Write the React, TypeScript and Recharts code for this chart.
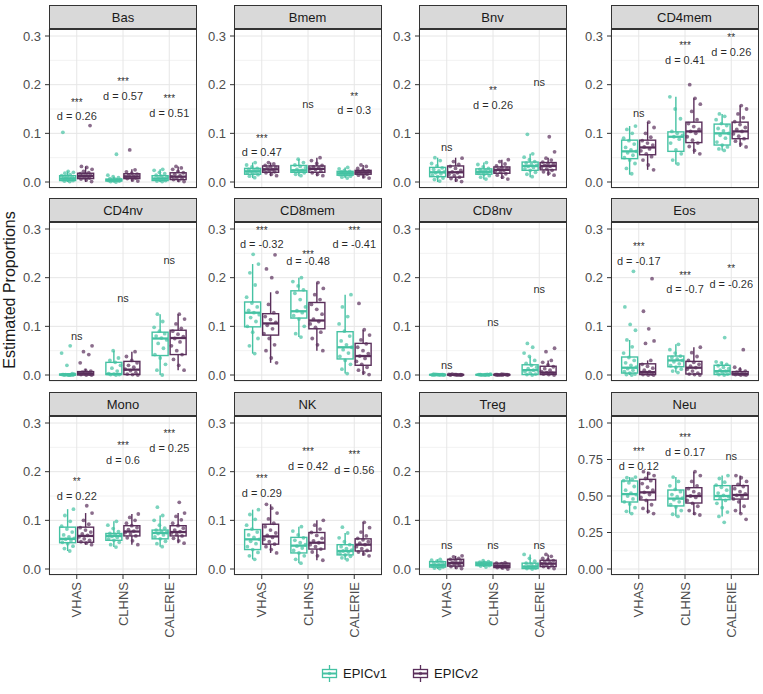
import React from 'react';
import { ComposedChart, Bar, Scatter, XAxis, YAxis, CartesianGrid } from 'recharts';

const cohorts = ['VHAS', 'CLHNS', 'CALERIE'];
const cellTypes = ['Bas', 'Bmem', 'Bnv', 'CD4mem', 'CD4nv', 'CD8mem', 'CD8nv', 'Eos', 'Mono', 'NK', 'Treg', 'Neu'];

// box stats per cohort: [lower whisker, Q1, median, Q3, upper whisker]
const boxV1 = [
  [[0, 0.003, 0.007, 0.013, 0.022], [0, 0.002, 0.004, 0.006, 0.011], [0, 0.003, 0.007, 0.013, 0.026]],
  [[0.008, 0.016, 0.022, 0.028, 0.04], [0.012, 0.02, 0.024, 0.034, 0.047], [0.008, 0.014, 0.018, 0.022, 0.03]],
  [[0, 0.011, 0.02, 0.03, 0.05], [0.005, 0.016, 0.021, 0.027, 0.04], [0.01, 0.024, 0.033, 0.041, 0.058]],
  [[0.015, 0.048, 0.063, 0.086, 0.115], [0.036, 0.063, 0.093, 0.103, 0.175], [0.065, 0.076, 0.1, 0.119, 0.14]],
  [[0, 0, 0.0005, 0.002, 0.003], [0, 0.001, 0.002, 0.026, 0.05], [0, 0.04, 0.075, 0.088, 0.125]],
  [[0.044, 0.099, 0.128, 0.15, 0.228], [0.078, 0.117, 0.131, 0.173, 0.2], [0.003, 0.033, 0.057, 0.089, 0.165]],
  [[0, 0, 0.0005, 0.001, 0.002], [0, 0, 0.0005, 0.001, 0.002], [0, 0.001, 0.01, 0.021, 0.038]],
  [[0, 0.004, 0.015, 0.037, 0.072], [0.005, 0.017, 0.03, 0.039, 0.063], [0, 0.001, 0.008, 0.02, 0.027]],
  [[0.037, 0.054, 0.062, 0.086, 0.123], [0.045, 0.059, 0.068, 0.073, 0.098], [0.046, 0.062, 0.074, 0.08, 0.11]],
  [[0.02, 0.04, 0.061, 0.081, 0.122], [0.012, 0.033, 0.048, 0.065, 0.087], [0.019, 0.029, 0.037, 0.05, 0.074]],
  [[0, 0.004, 0.008, 0.015, 0.02], [0.004, 0.007, 0.01, 0.014, 0.017], [0, 0.001, 0.005, 0.012, 0.03]],
  [[0.38, 0.459, 0.513, 0.603, 0.63], [0.36, 0.432, 0.482, 0.541, 0.63], [0.36, 0.475, 0.5, 0.571, 0.64]],
];

const boxV2 = [
  [[0, 0.007, 0.012, 0.018, 0.032], [0.001, 0.007, 0.011, 0.017, 0.026], [0, 0.005, 0.011, 0.019, 0.032]],
  [[0.012, 0.02, 0.026, 0.033, 0.04], [0.012, 0.02, 0.027, 0.033, 0.05], [0.007, 0.016, 0.02, 0.024, 0.035]],
  [[0, 0.01, 0.02, 0.033, 0.05], [0.006, 0.018, 0.025, 0.031, 0.046], [0.013, 0.025, 0.033, 0.04, 0.05]],
  [[0.025, 0.056, 0.071, 0.086, 0.123], [0.058, 0.081, 0.104, 0.123, 0.172], [0.072, 0.089, 0.104, 0.123, 0.157]],
  [[0, 0, 0.003, 0.007, 0.012], [0, 0.001, 0.011, 0.028, 0.048], [0.01, 0.042, 0.076, 0.092, 0.125]],
  [[0.025, 0.082, 0.106, 0.126, 0.17], [0.05, 0.095, 0.112, 0.149, 0.19], [0, 0.02, 0.039, 0.065, 0.093]],
  [[0, 0, 0.0005, 0.001, 0.002], [0, 0, 0.0005, 0.001, 0.002], [0, 0.001, 0.005, 0.018, 0.03]],
  [[0, 0.001, 0.006, 0.023, 0.03], [0, 0.002, 0.015, 0.028, 0.057], [0, 0.0005, 0.002, 0.007, 0.016]],
  [[0.05, 0.055, 0.068, 0.086, 0.115], [0.05, 0.068, 0.077, 0.089, 0.113], [0.053, 0.068, 0.076, 0.089, 0.115]],
  [[0.033, 0.051, 0.067, 0.092, 0.133], [0.018, 0.041, 0.054, 0.075, 0.1], [0.027, 0.037, 0.05, 0.062, 0.096]],
  [[0, 0.006, 0.012, 0.02, 0.027], [0, 0.003, 0.006, 0.012, 0.013], [0, 0.005, 0.011, 0.018, 0.03]],
  [[0.38, 0.473, 0.525, 0.614, 0.667], [0.37, 0.452, 0.5, 0.557, 0.667], [0.38, 0.479, 0.507, 0.571, 0.64]],
];

// individual samples (jittered points)
const ptsV1 = [
  [[0.001, 0.002, 0.003, 0.004, 0.005, 0.006, 0.007, 0.007, 0.008, 0.009, 0.01, 0.012, 0.013, 0.015, 0.018, 0.02, 0.022, 0.102],
   [0, 0.001, 0.002, 0.002, 0.003, 0.004, 0.004, 0.005, 0.006, 0.007, 0.009, 0.011, 0.014, 0.057],
   [0.001, 0.002, 0.003, 0.004, 0.006, 0.007, 0.008, 0.01, 0.012, 0.014, 0.017, 0.02, 0.024, 0.026]],
  [[0.009, 0.012, 0.015, 0.017, 0.019, 0.021, 0.022, 0.023, 0.025, 0.026, 0.028, 0.031, 0.035, 0.04],
   [0.013, 0.016, 0.019, 0.021, 0.023, 0.024, 0.026, 0.029, 0.032, 0.035, 0.04, 0.047],
   [0.008, 0.01, 0.012, 0.014, 0.015, 0.016, 0.017, 0.018, 0.019, 0.021, 0.022, 0.024, 0.027, 0.03]],
  [[0.002, 0.005, 0.008, 0.011, 0.014, 0.017, 0.019, 0.021, 0.023, 0.026, 0.029, 0.033, 0.038, 0.044, 0.05],
   [0.006, 0.01, 0.013, 0.016, 0.018, 0.02, 0.021, 0.022, 0.024, 0.026, 0.028, 0.031, 0.036, 0.04],
   [0.011, 0.016, 0.02, 0.024, 0.027, 0.03, 0.032, 0.034, 0.036, 0.039, 0.042, 0.046, 0.051, 0.058, 0.098]],
  [[0.017, 0.028, 0.038, 0.045, 0.05, 0.055, 0.06, 0.063, 0.066, 0.071, 0.078, 0.085, 0.09, 0.1, 0.108, 0.115],
   [0.037, 0.045, 0.058, 0.066, 0.08, 0.088, 0.093, 0.096, 0.1, 0.104, 0.13, 0.15, 0.175],
   [0.065, 0.068, 0.072, 0.076, 0.082, 0.09, 0.096, 0.1, 0.105, 0.11, 0.116, 0.12, 0.128, 0.135, 0.14]],
  [[0, 0, 0, 0, 0.001, 0, 0.001, 0.002, 0, 0.001, 0.003, 0.02, 0.045, 0.06],
   [0, 0.001, 0.001, 0.002, 0.003, 0.008, 0.014, 0.02, 0.026, 0.03, 0.035, 0.05],
   [0, 0.01, 0.022, 0.035, 0.042, 0.055, 0.065, 0.072, 0.076, 0.08, 0.085, 0.09, 0.098, 0.11, 0.125]],
  [[0.044, 0.06, 0.075, 0.088, 0.1, 0.11, 0.118, 0.124, 0.128, 0.133, 0.14, 0.148, 0.16, 0.185, 0.21, 0.228, 0.248],
   [0.078, 0.085, 0.1, 0.115, 0.122, 0.128, 0.132, 0.14, 0.155, 0.168, 0.175, 0.183, 0.192, 0.2],
   [0.003, 0.012, 0.022, 0.03, 0.038, 0.045, 0.052, 0.057, 0.062, 0.07, 0.08, 0.09, 0.105, 0.12, 0.14, 0.165]],
  [[0, 0, 0.0005, 0.001, 0, 0.001, 0.0015, 0, 0.001, 0.002, 0.0005, 0.001],
   [0, 0.0005, 0.001, 0, 0.001, 0.0015, 0, 0.002, 0.0005, 0.001, 0],
   [0, 0.001, 0.002, 0.004, 0.007, 0.01, 0.013, 0.016, 0.02, 0.024, 0.03, 0.038, 0.045, 0.057, 0.065]],
  [[0, 0.001, 0.002, 0.004, 0.007, 0.01, 0.013, 0.016, 0.02, 0.025, 0.03, 0.036, 0.045, 0.058, 0.072, 0.092, 0.104, 0.14, 0.213],
   [0.005, 0.008, 0.012, 0.016, 0.019, 0.023, 0.027, 0.03, 0.033, 0.036, 0.039, 0.045, 0.052, 0.063],
   [0, 0.001, 0.002, 0.004, 0.006, 0.008, 0.01, 0.013, 0.016, 0.019, 0.022, 0.025, 0.027, 0.077]],
  [[0.037, 0.042, 0.047, 0.052, 0.055, 0.058, 0.061, 0.063, 0.066, 0.07, 0.076, 0.082, 0.088, 0.098, 0.11, 0.123],
   [0.045, 0.05, 0.055, 0.059, 0.062, 0.065, 0.067, 0.069, 0.071, 0.073, 0.077, 0.083, 0.09, 0.098],
   [0.046, 0.052, 0.057, 0.062, 0.066, 0.07, 0.073, 0.075, 0.077, 0.08, 0.084, 0.09, 0.1, 0.11, 0.127]],
  [[0.02, 0.027, 0.034, 0.04, 0.046, 0.052, 0.057, 0.061, 0.065, 0.07, 0.076, 0.082, 0.09, 0.102, 0.112, 0.122],
   [0.012, 0.02, 0.027, 0.033, 0.038, 0.043, 0.047, 0.05, 0.054, 0.059, 0.064, 0.07, 0.078, 0.087],
   [0.019, 0.023, 0.026, 0.029, 0.032, 0.035, 0.037, 0.039, 0.042, 0.046, 0.05, 0.056, 0.064, 0.074, 0.086]],
  [[0.001, 0.002, 0.004, 0.005, 0.006, 0.007, 0.008, 0.009, 0.01, 0.012, 0.014, 0.016, 0.018, 0.02],
   [0.004, 0.006, 0.007, 0.008, 0.009, 0.01, 0.011, 0.012, 0.013, 0.014, 0.015, 0.017],
   [0, 0.001, 0.002, 0.003, 0.004, 0.005, 0.006, 0.008, 0.01, 0.012, 0.016, 0.022, 0.03]],
  [[0.38, 0.395, 0.42, 0.445, 0.46, 0.48, 0.5, 0.51, 0.52, 0.54, 0.565, 0.59, 0.605, 0.615, 0.625, 0.63],
   [0.36, 0.375, 0.4, 0.425, 0.44, 0.46, 0.475, 0.485, 0.495, 0.51, 0.53, 0.545, 0.57, 0.6, 0.63],
   [0.32, 0.36, 0.39, 0.42, 0.45, 0.47, 0.485, 0.495, 0.505, 0.52, 0.54, 0.56, 0.575, 0.595, 0.62, 0.64]],
];

const ptsV2 = [
  [[0.001, 0.004, 0.006, 0.008, 0.009, 0.011, 0.012, 0.013, 0.014, 0.016, 0.017, 0.019, 0.022, 0.026, 0.03, 0.032, 0.116],
   [0.002, 0.004, 0.007, 0.008, 0.01, 0.011, 0.012, 0.014, 0.016, 0.018, 0.021, 0.025, 0.066],
   [0.001, 0.003, 0.005, 0.007, 0.009, 0.011, 0.013, 0.016, 0.019, 0.022, 0.026, 0.029, 0.032]],
  [[0.013, 0.016, 0.019, 0.021, 0.023, 0.025, 0.026, 0.028, 0.03, 0.032, 0.034, 0.037, 0.04],
   [0.013, 0.016, 0.019, 0.022, 0.025, 0.027, 0.029, 0.031, 0.034, 0.038, 0.044, 0.05],
   [0.008, 0.011, 0.014, 0.016, 0.017, 0.019, 0.02, 0.021, 0.023, 0.025, 0.028, 0.032, 0.035]],
  [[0.001, 0.004, 0.007, 0.01, 0.013, 0.016, 0.019, 0.021, 0.024, 0.028, 0.032, 0.036, 0.042, 0.049],
   [0.006, 0.01, 0.014, 0.017, 0.02, 0.022, 0.024, 0.026, 0.028, 0.03, 0.033, 0.037, 0.042, 0.046],
   [0.014, 0.018, 0.021, 0.024, 0.027, 0.03, 0.032, 0.034, 0.036, 0.038, 0.041, 0.045, 0.049, 0.062, 0.093]],
  [[0.025, 0.035, 0.045, 0.052, 0.058, 0.064, 0.068, 0.072, 0.076, 0.08, 0.085, 0.092, 0.1, 0.112, 0.123],
   [0.058, 0.065, 0.073, 0.08, 0.086, 0.093, 0.1, 0.104, 0.108, 0.114, 0.12, 0.128, 0.145, 0.16, 0.172, 0.2],
   [0.072, 0.078, 0.084, 0.089, 0.094, 0.099, 0.104, 0.108, 0.112, 0.118, 0.124, 0.132, 0.14, 0.15, 0.157]],
  [[0, 0, 0.001, 0.002, 0.003, 0.004, 0.005, 0.006, 0.008, 0.01, 0.025, 0.042, 0.048, 0.06],
   [0, 0.001, 0.002, 0.005, 0.009, 0.012, 0.016, 0.02, 0.025, 0.03, 0.038, 0.048],
   [0.01, 0.02, 0.032, 0.042, 0.05, 0.06, 0.068, 0.075, 0.079, 0.084, 0.09, 0.096, 0.105, 0.115, 0.125]],
  [[0.025, 0.035, 0.05, 0.062, 0.075, 0.085, 0.095, 0.102, 0.108, 0.114, 0.12, 0.128, 0.145, 0.17, 0.2, 0.218, 0.247],
   [0.05, 0.062, 0.075, 0.088, 0.098, 0.105, 0.11, 0.115, 0.125, 0.135, 0.145, 0.155, 0.165, 0.178, 0.19],
   [0.001, 0.005, 0.01, 0.016, 0.022, 0.028, 0.034, 0.039, 0.044, 0.05, 0.057, 0.064, 0.072, 0.082, 0.093, 0.147]],
  [[0, 0.0005, 0.001, 0, 0.001, 0.0015, 0, 0.002, 0.0005, 0.001, 0],
   [0, 0, 0.0005, 0.001, 0, 0.001, 0.0015, 0, 0.001, 0.002, 0.0005],
   [0, 0.001, 0.002, 0.004, 0.005, 0.007, 0.01, 0.013, 0.017, 0.021, 0.026, 0.03, 0.048, 0.055]],
  [[0, 0, 0.001, 0.002, 0.003, 0.005, 0.007, 0.01, 0.014, 0.018, 0.022, 0.03, 0.065, 0.07, 0.095, 0.131, 0.198],
   [0, 0.001, 0.002, 0.004, 0.008, 0.012, 0.015, 0.018, 0.022, 0.026, 0.03, 0.038, 0.046, 0.057],
   [0, 0, 0.001, 0.001, 0.002, 0.003, 0.004, 0.006, 0.008, 0.011, 0.016, 0.052]],
  [[0.05, 0.053, 0.056, 0.059, 0.062, 0.066, 0.069, 0.072, 0.076, 0.08, 0.085, 0.092, 0.1, 0.115, 0.13],
   [0.05, 0.058, 0.064, 0.068, 0.072, 0.075, 0.078, 0.081, 0.085, 0.089, 0.094, 0.1, 0.106, 0.113],
   [0.053, 0.058, 0.063, 0.068, 0.071, 0.074, 0.077, 0.08, 0.084, 0.089, 0.094, 0.101, 0.108, 0.115, 0.137]],
  [[0.033, 0.04, 0.046, 0.051, 0.056, 0.061, 0.065, 0.069, 0.074, 0.08, 0.087, 0.094, 0.103, 0.115, 0.125, 0.133],
   [0.018, 0.027, 0.035, 0.041, 0.046, 0.05, 0.054, 0.058, 0.063, 0.069, 0.075, 0.082, 0.09, 0.1],
   [0.027, 0.031, 0.035, 0.038, 0.042, 0.046, 0.05, 0.053, 0.056, 0.06, 0.063, 0.068, 0.076, 0.085, 0.096]],
  [[0.001, 0.003, 0.005, 0.007, 0.009, 0.011, 0.012, 0.014, 0.016, 0.018, 0.02, 0.022, 0.025, 0.027],
   [0, 0.002, 0.003, 0.004, 0.005, 0.006, 0.007, 0.008, 0.01, 0.011, 0.012, 0.013],
   [0.001, 0.003, 0.005, 0.007, 0.009, 0.011, 0.013, 0.015, 0.017, 0.019, 0.022, 0.026, 0.03]],
  [[0.38, 0.395, 0.415, 0.44, 0.47, 0.49, 0.51, 0.525, 0.54, 0.56, 0.585, 0.605, 0.62, 0.64, 0.655, 0.667],
   [0.37, 0.38, 0.4, 0.43, 0.45, 0.47, 0.49, 0.5, 0.515, 0.53, 0.55, 0.57, 0.6, 0.64, 0.667],
   [0.34, 0.38, 0.4, 0.43, 0.46, 0.48, 0.495, 0.505, 0.515, 0.53, 0.55, 0.565, 0.58, 0.6, 0.625, 0.64]],
];

// significance labels and effect sizes, per cohort
const sigText = [
  ['***', '***', '***'], ['***', 'ns', '**'], ['ns', '**', 'ns'], ['ns', '***', '**'],
  ['ns', 'ns', 'ns'], ['***', '***', '***'], ['ns', 'ns', 'ns'], ['***', '***', '**'],
  ['**', '***', '***'], ['***', '***', '***'], ['ns', 'ns', 'ns'], ['***', '***', 'ns'],
];
const sigY = [
  [0.17, 0.212, 0.178], [0.0966, 0.16, 0.182], [0.072, 0.194, 0.206], [0.141, 0.286, 0.303],
  [0.08, 0.159, 0.236], [0.303, 0.254, 0.303], [0.02, 0.109, 0.176], [0.27, 0.211, 0.224],
  [0.187, 0.26, 0.284], [0.192, 0.247, 0.242], [0.049, 0.049, 0.049], [0.824, 0.92, 0.776],
];
const dText = [
  ['d = 0.26', 'd = 0.57', 'd = 0.51'], ['d = 0.47', '', 'd = 0.3'], ['', 'd = 0.26', ''], ['', 'd = 0.41', 'd = 0.26'],
  ['', '', ''], ['d = -0.32', 'd = -0.48', 'd = -0.41'], ['', '', ''], ['d = -0.17', 'd = -0.7', 'd = -0.26'],
  ['d = 0.22', 'd = 0.6', 'd = 0.25'], ['d = 0.29', 'd = 0.42', 'd = 0.56'], ['', '', ''], ['d = 0.12', 'd = 0.17', ''],
];
const dY = [
  [0.136, 0.176, 0.142], [0.061, 0, 0.147], [0, 0.158, 0], [0, 0.25, 0.267],
  [0, 0, 0], [0.269, 0.235, 0.269], [0, 0, 0], [0.234, 0.176, 0.188],
  [0.151, 0.223, 0.248], [0.156, 0.212, 0.204], [0, 0, 0], [0.705, 0.804, 0],
];

const propTicks = [0, 0.1, 0.2, 0.3];
const propMinor = [0.05, 0.15, 0.25];
const neuTicks = [0, 0.25, 0.5, 0.75, 1];
const neuMinor = [0.125, 0.375, 0.625, 0.875];

const TEAL = '#45C2A3';
const PURPLE = '#5A2F5B';
const FONT = '"Liberation Sans", Arial, Helvetica, sans-serif';

const colLeft = [49, 233.5, 418.5, 610.5];
const rowTop = [5, 198, 392];
const PLOT_W = 148;
const PLOT_H = 159;
const STRIP_H = 24;
const AXIS_W = 40;
const XAXIS_H = 66;
const PAD_B = 10;

const jitter = (i: number) => ((((i + 1) * 0.6180339887) % 1) - 0.5) * 0.3;

const BoxShape = (props: any) => {
  const { x, y, width, height, color, statKey } = props;
  const stats: number[] = (props.payload || props)[statKey];
  const [lo, q1, med, q3, hi] = stats;
  const h = Math.abs(height);
  const top = height < 0 ? y + height : y;
  const k = hi > lo ? h / (hi - lo) : 0;
  const py = (v: number) => top + (hi - v) * k;
  const cx = x + width / 2;
  return (
    <g>
      <line x1={cx} x2={cx} y1={py(hi)} y2={py(q3)} stroke={color} strokeWidth={1.4} />
      <line x1={cx} x2={cx} y1={py(q1)} y2={py(lo)} stroke={color} strokeWidth={1.4} />
      <rect x={x} y={py(q3)} width={width} height={Math.max(py(q1) - py(q3), 0.5)} fill="#fff" fillOpacity={0.55} stroke={color} strokeWidth={1.4} />
      <line x1={x} x2={x + width} y1={py(med)} y2={py(med)} stroke={color} strokeWidth={2.3} />
    </g>
  );
};

const Dot = (props: any) => (
  <circle cx={props.cx} cy={props.cy} r={1.9} fill={props.color} fillOpacity={0.7} />
);

const Label = (props: any) => {
  const stars = props.payload.kind === 'sig' && props.payload.label !== 'ns';
  return (
    <text x={props.cx} y={props.cy + (stars ? 3 : 0)} textAnchor="middle" dominantBaseline="central"
      fontSize={stars ? 10 : 11} fill="#1a1a1a" fillOpacity={0.95} fontFamily={FONT}>
      {props.payload.label}
    </text>
  );
};

const XTick = (props: any) => {
  const { x, y, payload } = props;
  return (
    <text x={x} y={y} transform={`rotate(-90 ${x} ${y})`} textAnchor="end" dominantBaseline="central"
      fontSize={13} fill="#4d4d4d" fontFamily={FONT}>
      {payload.value}
    </text>
  );
};

const Panel = ({ idx }: { idx: number }) => {
  const row = Math.floor(idx / 4);
  const col = idx % 4;
  const isNeu = cellTypes[idx] === 'Neu';
  const bottom = row === 2;
  const ticks = isNeu ? neuTicks : propTicks;
  const minor = isNeu ? neuMinor : propMinor;
  const domain = isNeu ? [-0.041, 1.048] : [-0.0123, 0.3144];
  const fmt = (v: number) => (isNeu ? v.toFixed(2) : v.toFixed(1));

  const data = cohorts.map((c, i) => ({
    cohort: c,
    r1: [boxV1[idx][i][0], boxV1[idx][i][4]],
    r2: [boxV2[idx][i][0], boxV2[idx][i][4]],
    s1: boxV1[idx][i],
    s2: boxV2[idx][i],
  }));
  const pts1: { x: number; y: number }[] = [];
  const pts2: { x: number; y: number }[] = [];
  cohorts.forEach((c, i) => {
    ptsV1[idx][i].forEach((v, j) => pts1.push({ x: i + 1 - 0.1875 + jitter(j), y: v }));
    ptsV2[idx][i].forEach((v, j) => pts2.push({ x: i + 1 + 0.1875 + jitter(j + 7), y: v }));
  });
  const labels = [
    ...cohorts.map((c, i) => ({ x: i + 1, y: sigY[idx][i], label: sigText[idx][i], kind: 'sig' })),
    ...cohorts.map((c, i) => ({ x: i + 1, y: dY[idx][i], label: dText[idx][i], kind: 'd' })).filter((d) => d.label),
  ];

  const left = colLeft[col];
  const top = rowTop[row];
  return (
    <>
      <div style={{
        position: 'absolute', left, top, width: PLOT_W, height: STRIP_H, boxSizing: 'border-box',
        background: '#d9d9d9', border: '1px solid #333', color: '#1a1a1a', fontSize: 13,
        display: 'flex', alignItems: 'center', justifyContent: 'center',
      }}>
        {cellTypes[idx]}
      </div>
      <div style={{ position: 'absolute', left: left - AXIS_W, top: top + STRIP_H }}>
        <ComposedChart width={AXIS_W + PLOT_W} height={PLOT_H + (bottom ? XAXIS_H : PAD_B)} data={data}
          margin={{ top: 0, right: 0, bottom: bottom ? 0 : PAD_B, left: 0 }} barGap={2}>
          <XAxis xAxisId="cat" dataKey="cohort" type="category" hide={!bottom} height={XAXIS_H}
            padding={{ left: 4.625, right: 4.625 }} tick={<XTick />} tickSize={4} tickMargin={3}
            axisLine={false} tickLine={{ stroke: '#333' }} interval={0} />
          <XAxis xAxisId="num" dataKey="x" type="number" domain={[0.4, 3.6]} ticks={[1, 2, 3]}
            allowDataOverflow hide />
          <YAxis yAxisId="y" type="number" domain={domain} ticks={ticks} allowDataOverflow width={AXIS_W}
            tickFormatter={fmt} tickSize={4} tickMargin={4} axisLine={false} tickLine={{ stroke: '#333' }}
            tick={{ fontSize: 13, fill: '#4d4d4d', fontFamily: FONT }} interval={0} />
          <YAxis yAxisId="minor" orientation="right" width={0} type="number" domain={domain} ticks={minor}
            allowDataOverflow hide />
          <CartesianGrid yAxisId="minor" xAxisId="num" vertical={false} stroke="#f2f2f2" />
          <CartesianGrid yAxisId="y" xAxisId="num" stroke="#e6e6e6" />
          <Bar xAxisId="cat" yAxisId="y" dataKey="r1" barSize={16} isAnimationActive={false}
            shape={(p: any) => <BoxShape {...p} statKey="s1" color={TEAL} />} />
          <Bar xAxisId="cat" yAxisId="y" dataKey="r2" barSize={16} isAnimationActive={false}
            shape={(p: any) => <BoxShape {...p} statKey="s2" color={PURPLE} />} />
          <Scatter xAxisId="num" yAxisId="y" data={pts1} dataKey="y" isAnimationActive={false}
            shape={(p: any) => <Dot {...p} color={TEAL} />} />
          <Scatter xAxisId="num" yAxisId="y" data={pts2} dataKey="y" isAnimationActive={false}
            shape={(p: any) => <Dot {...p} color={PURPLE} />} />
          <Scatter xAxisId="num" yAxisId="y" data={labels} dataKey="y" isAnimationActive={false}
            shape={(p: any) => <Label {...p} />} />
        </ComposedChart>
      </div>
      <div style={{
        position: 'absolute', left, top: top + STRIP_H, width: PLOT_W, height: PLOT_H,
        boxSizing: 'border-box', border: '1px solid #333', pointerEvents: 'none',
      }} />
    </>
  );
};

const LegendKey = ({ color }: { color: string }) => (
  <svg width={17} height={17}>
    <line x1={8.5} x2={8.5} y1={0} y2={4.5} stroke={color} strokeWidth={1.3} />
    <line x1={8.5} x2={8.5} y1={12.5} y2={17} stroke={color} strokeWidth={1.3} />
    <rect x={1.5} y={4.5} width={14} height={8} fill="#fff" stroke={color} strokeWidth={1.3} />
    <line x1={1.5} x2={15.5} y1={8.5} y2={8.5} stroke={color} strokeWidth={2} />
    <circle cx={8.5} cy={8.5} r={1.8} fill={color} fillOpacity={0.7} />
  </svg>
);

export default function App() {
  return (
    <div style={{
      position: 'absolute', left: 0, top: 0, width: 763, height: 694, background: '#fff',
      fontFamily: FONT, overflow: 'hidden',
    }}>
      <svg width={30} height={694} style={{ position: 'absolute', left: 0, top: 0 }}>
        <text transform="translate(15,290) rotate(-90)" textAnchor="middle" fontSize={16}
          fill="#1a1a1a" fontFamily={FONT}>
          Estimated Proportions
        </text>
      </svg>
      {cellTypes.map((c, i) => (
        <Panel key={c} idx={i} />
      ))}
      <div style={{ position: 'absolute', left: 321, top: 665, display: 'flex', alignItems: 'center', fontSize: 13, color: '#1a1a1a' }}>
        <LegendKey color={TEAL} />
        <span style={{ marginLeft: 5, marginRight: 25 }}>EPICv1</span>
        <LegendKey color={PURPLE} />
        <span style={{ marginLeft: 5 }}>EPICv2</span>
      </div>
    </div>
  );
}
